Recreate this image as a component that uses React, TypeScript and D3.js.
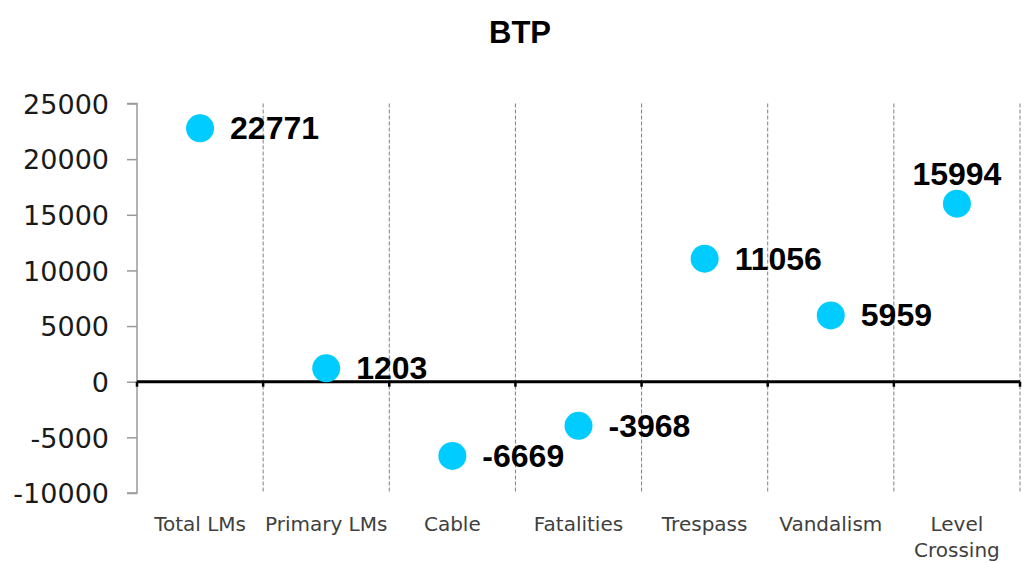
import { useEffect, useRef } from "react";
import * as d3 from "d3";

const title = "BTP";
const categories = ["Total LMs", "Primary LMs", "Cable", "Fatalities", "Trespass", "Vandalism", "Level Crossing"];
const values = [22771, 1203, -6669, -3968, 11056, 5959, 15994];
const labelSide = ["right", "right", "right", "right", "right", "right", "top"];
const yTicks = [-10000, -5000, 0, 5000, 10000, 15000, 20000, 25000];

const W = 1033,
  H = 563;
const plot = { left: 137, right: 1020, top: 103.5, bottom: 493 };

function draw(el: SVGSVGElement) {
  const svg = d3.select(el);
  svg.selectAll("*").remove();

  const x = d3.scaleBand<string>().domain(categories).range([plot.left, plot.right]);
  const y = d3.scaleLinear().domain([-10000, 25000]).range([plot.bottom, plot.top]);

  // title
  svg
    .append("text")
    .attr("x", 520)
    .attr("y", 43)
    .attr("text-anchor", "middle")
    .attr("font-family", "Liberation Sans, Arial, sans-serif")
    .attr("font-weight", "bold")
    .attr("font-size", 31)
    .attr("fill", "#000")
    .text(title);

  // dashed separators between categories
  const bounds = categories.map((c) => (x(c) as number) + x.bandwidth());
  svg
    .append("g")
    .selectAll("line")
    .data(bounds)
    .join("line")
    .attr("x1", (d) => d)
    .attr("x2", (d) => d)
    .attr("y1", plot.top)
    .attr("y2", plot.bottom)
    .attr("stroke", "#808080")
    .attr("stroke-width", 1)
    .attr("stroke-dasharray", "4,2");

  // y axis
  const yAxis = svg
    .append("g")
    .attr("transform", `translate(${plot.left},0)`)
    .call(d3.axisLeft(y).tickValues(yTicks).tickSize(10).tickPadding(18).tickFormat((d) => String(d)));
  yAxis.select(".domain").attr("stroke", "#9a9a9a").attr("stroke-width", 1.5).attr("d", `M-10,${y(25000)}H0V${y(-10000)}H-10`);
  yAxis.selectAll(".tick line").attr("stroke", "#9a9a9a").attr("stroke-width", 1.5);
  yAxis
    .selectAll(".tick text")
    .attr("font-family", "DejaVu Sans, sans-serif")
    .attr("font-size", 27)
    .attr("fill", "#1a1a1a")
    .attr("dy", "0.36em");

  // zero line with small ticks
  svg
    .append("line")
    .attr("x1", plot.left)
    .attr("x2", plot.right)
    .attr("y1", y(0))
    .attr("y2", y(0))
    .attr("stroke", "#000")
    .attr("stroke-width", 3);
  svg
    .append("g")
    .selectAll("line")
    .data([plot.left, ...bounds])
    .join("line")
    .attr("x1", (d) => d)
    .attr("x2", (d) => d)
    .attr("y1", y(0))
    .attr("y2", y(0) + 5)
    .attr("stroke", "#000")
    .attr("stroke-width", 2.5);

  // category labels
  const cat = svg
    .append("g")
    .selectAll("text")
    .data(categories)
    .join("text")
    .attr("x", (d) => (x(d) as number) + x.bandwidth() / 2)
    .attr("y", 531)
    .attr("text-anchor", "middle")
    .attr("font-family", "DejaVu Sans, sans-serif")
    .attr("font-size", 20)
    .attr("fill", "#404040");
  cat.each(function (d) {
    const t = d3.select(this);
    const lines = d === "Level Crossing" ? ["Level", "Crossing"] : [d];
    lines.forEach((ln, i) => {
      t.append("tspan")
        .attr("x", (x(d) as number) + x.bandwidth() / 2)
        .attr("dy", i === 0 ? 0 : 26)
        .text(ln);
    });
  });

  // points
  const pts = categories.map((c, i) => ({ c, v: values[i], side: labelSide[i] }));
  svg
    .append("g")
    .selectAll("circle")
    .data(pts)
    .join("circle")
    .attr("cx", (d) => (x(d.c) as number) + x.bandwidth() / 2)
    .attr("cy", (d) => y(d.v))
    .attr("r", 14)
    .attr("fill", "#00CCFF");

  svg
    .append("g")
    .selectAll("text")
    .data(pts)
    .join("text")
    .attr("x", (d) => (x(d.c) as number) + x.bandwidth() / 2 + (d.side === "top" ? 0 : 30))
    .attr("y", (d) => y(d.v) + (d.side === "top" ? -30 : 0))
    .attr("text-anchor", (d) => (d.side === "top" ? "middle" : "start"))
    .attr("dominant-baseline", "central")
    .attr("font-family", "Liberation Sans, Arial, sans-serif")
    .attr("font-weight", "bold")
    .attr("font-size", 32)
    .attr("fill", "#000")
    .text((d) => String(d.v));
}

export default function App() {
  const ref = useRef<SVGSVGElement>(null);
  useEffect(() => {
    if (ref.current) draw(ref.current);
  }, []);
  return (
    <>
      <style>{"body{margin:0;background:#fff}"}</style>
      <svg ref={ref} width={W} height={H} style={{ display: "block" }} />
    </>
  );
}
